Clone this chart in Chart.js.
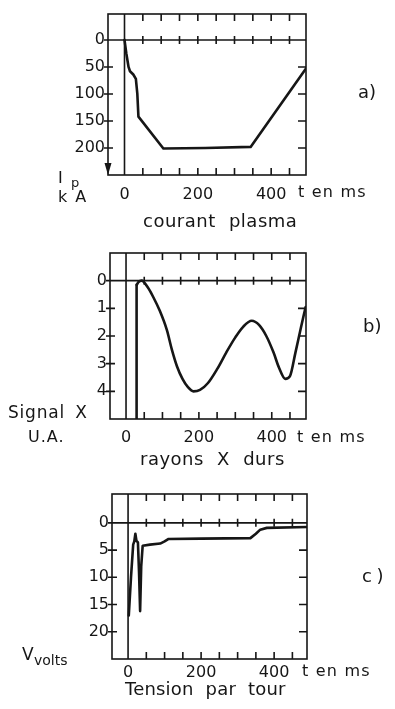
<!DOCTYPE html>
<html lang="fr">
<head>
  <meta charset="UTF-8">
  <title>Décharge : courant, rayons X, tension</title>
  <script src="https://cdn.jsdelivr.net/npm/chart.js"></script>
  <style>
    html, body { margin: 0; padding: 0; background: #fff; }
    body {
      width: 395px; height: 709px; position: relative; overflow: hidden;
      font-family: "DejaVu Sans", sans-serif; color: #161616;
    }
    canvas { position: absolute; left: 0; top: 0; }
    .t { position: absolute; font-size: 16px; line-height: 16px; white-space: pre; }
    .cap { font-size: 18px; line-height: 18px; letter-spacing: 0.5px; }
    .tag { font-size: 18px; line-height: 18px; }
    .sub { position: absolute; font-size: 13px; line-height: 13px; white-space: pre; }
  </style>
</head>
<body>
  <canvas id="chartA" width="395" height="709"></canvas>
  <canvas id="chartB" width="395" height="709"></canvas>
  <canvas id="chartC" width="395" height="709"></canvas>

  <!-- a) courant plasma -->
  <div class="t" style="left:58px; top:170px;">I</div>
  <div class="sub" style="left:71px; top:176px;">p</div>
  <div class="t" style="left:58px; top:189px; word-spacing:3px;">k A</div>
  <div class="t" style="left:298px; top:184px; letter-spacing:1.2px;">t en ms</div>
  <div class="t cap" style="left:143px; top:212px; word-spacing:7px;">courant plasma</div>
  <div class="t tag" style="left:358px; top:83px;">a)</div>

  <!-- b) rayons X durs -->
  <div class="t" style="left:8px; top:404px; font-size:17px; letter-spacing:0.8px; word-spacing:4px;">Signal X</div>
  <div class="t" style="left:28px; top:429px; letter-spacing:1px;">U.A.</div>
  <div class="t" style="left:297px; top:429px; letter-spacing:1.2px;">t en ms</div>
  <div class="t cap" style="left:140px; top:450px; word-spacing:7px;">rayons X durs</div>
  <div class="t tag" style="left:363px; top:317px;">b)</div>

  <!-- c) tension par tour -->
  <div class="t" style="left:22px; top:646px; font-size:17px;">V</div>
  <div class="sub" style="left:34px; top:654px; font-size:14px;">volts</div>
  <div class="t" style="left:302px; top:663px; letter-spacing:1.2px;">t en ms</div>
  <div class="t cap" style="left:125px; top:680px; letter-spacing:0.2px; word-spacing:6px;">Tension par tour</div>
  <div class="t tag" style="left:362px; top:567px; word-spacing:-1px;">c )</div>

  <script>
    const ink = '#161616';

    // time ticks (ms)
    const tLabels = [0, 200, 400];
    const tMinor = [50, 100, 150, 200, 250, 300, 350, 400, 450];

    // a) courant plasma Ip (kA)
    const tA = [0, 5, 11, 15, 24, 31, 35, 38, 106, 220, 344, 495];
    const ipA = [0, 25, 50, 58, 64, 72, 100, 142, 201, 200, 198, 53];
    const yLabelsA = [0, 50, 100, 150, 200];

    // b) rayons X durs (U.A.)
    const tSpikeB = [29, 29];
    const sSpikeB = [5, 0.15];
    const tB = [29.5, 34, 43, 60, 75, 93, 112, 126, 140, 155, 170, 185, 203, 225, 250, 275, 300, 322, 345, 365, 385, 405, 420, 437, 450, 465, 480, 493];
    const sB = [0.15, 0.05, 0.0, 0.25, 0.6, 1.1, 1.78, 2.5, 3.1, 3.55, 3.85, 4.0, 3.95, 3.7, 3.2, 2.6, 2.05, 1.66, 1.45, 1.6, 2.0, 2.6, 3.15, 3.55, 3.45, 2.6, 1.7, 0.95];
    const yLabelsB = [0, 1, 2, 3, 4];

    // c) tension par tour (V)
    const tC = [2, 8, 14, 17, 20, 23, 27, 30, 33, 36, 40, 60, 88, 100, 111, 200, 335, 350, 362, 380, 490];
    const vC = [17, 10, 4, 3.4, 2, 3.3, 3.6, 9, 16.2, 8, 4.2, 4.0, 3.8, 3.4, 2.95, 2.9, 2.8, 2.0, 1.25, 0.92, 0.75];
    const yLabelsC = [0, 5, 10, 15, 20];

    const pts = (xs, ys) => xs.map((x, i) => ({ x: x, y: ys[i] }));

    // box, zero lines and the little inside tick marks
    const frame = {
      id: 'frame',
      beforeDatasetsDraw(chart, args, opts) {
        const { ctx, chartArea: a, scales: { x, y } } = chart;
        const y0 = y.getPixelForValue(0);
        const x0 = x.getPixelForValue(0);
        ctx.save();
        ctx.strokeStyle = ink;
        ctx.lineWidth = 1.6;
        ctx.strokeRect(a.left, a.top, a.width, a.height);
        ctx.beginPath();
        ctx.moveTo(a.left, y0); ctx.lineTo(a.right, y0);
        ctx.moveTo(x0, a.top); ctx.lineTo(x0, a.bottom);
        tMinor.forEach(t => {
          const px = x.getPixelForValue(t);
          ctx.moveTo(px, a.top); ctx.lineTo(px, a.top + 7);
          ctx.moveTo(px, y0 - 4); ctx.lineTo(px, y0 + 4);
          ctx.moveTo(px, a.bottom); ctx.lineTo(px, a.bottom - 7);
        });
        opts.yTicks.forEach(v => {
          const py = y.getPixelForValue(v);
          ctx.moveTo(a.left - 4, py); ctx.lineTo(a.left + 5, py);
          if (v !== 0) { ctx.moveTo(a.right - 8, py); ctx.lineTo(a.right, py); }
        });
        ctx.stroke();
        if (opts.arrow) {
          ctx.fillStyle = ink;
          ctx.beginPath();
          ctx.moveTo(a.left - 3.5, a.bottom - 12);
          ctx.lineTo(a.left + 3.5, a.bottom - 12);
          ctx.lineTo(a.left, a.bottom);
          ctx.closePath();
          ctx.fill();
        }
        ctx.restore();
      }
    };

    Chart.defaults.font.family = '"DejaVu Sans", sans-serif';
    Chart.defaults.font.size = 16;
    Chart.defaults.color = ink;

    function panel(id, box, xRange, yRange, yLabels, xPad, datasets, arrow) {
      return new Chart(document.getElementById(id), {
        type: 'line',
        data: { datasets: datasets },
        options: {
          responsive: false,
          animation: false,
          events: [],
          layout: { padding: { left: 0, top: box.top, right: 395 - box.right, bottom: 709 - box.bottom - 30 } },
          plugins: {
            legend: { display: false },
            tooltip: { enabled: false },
            frame: { yTicks: yLabels, arrow: arrow }
          },
          scales: {
            x: {
              type: 'linear', min: xRange[0], max: xRange[1],
              border: { display: false },
              grid: { display: false, drawTicks: false },
              afterFit: s => { s.height = 30; },
              afterBuildTicks: s => { s.ticks = tLabels.map(v => ({ value: v })); },
              ticks: { autoSkip: false, maxRotation: 0, padding: xPad, callback: v => String(v) }
            },
            y: {
              type: 'linear', reverse: true, min: yRange[0], max: yRange[1],
              border: { display: false },
              grid: { display: false, drawTicks: false },
              afterFit: s => { s.width = box.left; },
              afterBuildTicks: s => { s.ticks = yLabels.map(v => ({ value: v })); },
              ticks: { autoSkip: false, padding: 3, callback: v => String(v) }
            }
          }
        },
        plugins: [frame]
      });
    }

    const line = (data) => ({
      data: data, borderColor: ink, borderWidth: 2.6, pointRadius: 0,
      tension: 0, fill: false, borderJoinStyle: 'round', borderCapStyle: 'round'
    });

    panel('chartA', { left: 108, top: 14, right: 306, bottom: 175 }, [-45, 495], [-48, 250], yLabelsA, 10,
      [line(pts(tA, ipA))], true);

    panel('chartB', { left: 110, top: 253, right: 306, bottom: 419 }, [-44, 494], [-1, 5], yLabelsB, 9,
      [line(pts(tSpikeB, sSpikeB)),
       Object.assign(line(pts(tB, sB)), { cubicInterpolationMode: 'monotone' })], false);

    panel('chartC', { left: 112, top: 494, right: 307, bottom: 659 }, [-44, 490], [-5.3, 25], yLabelsC, 4,
      [line(pts(tC, vC))], false);
  </script>
</body>
</html>
